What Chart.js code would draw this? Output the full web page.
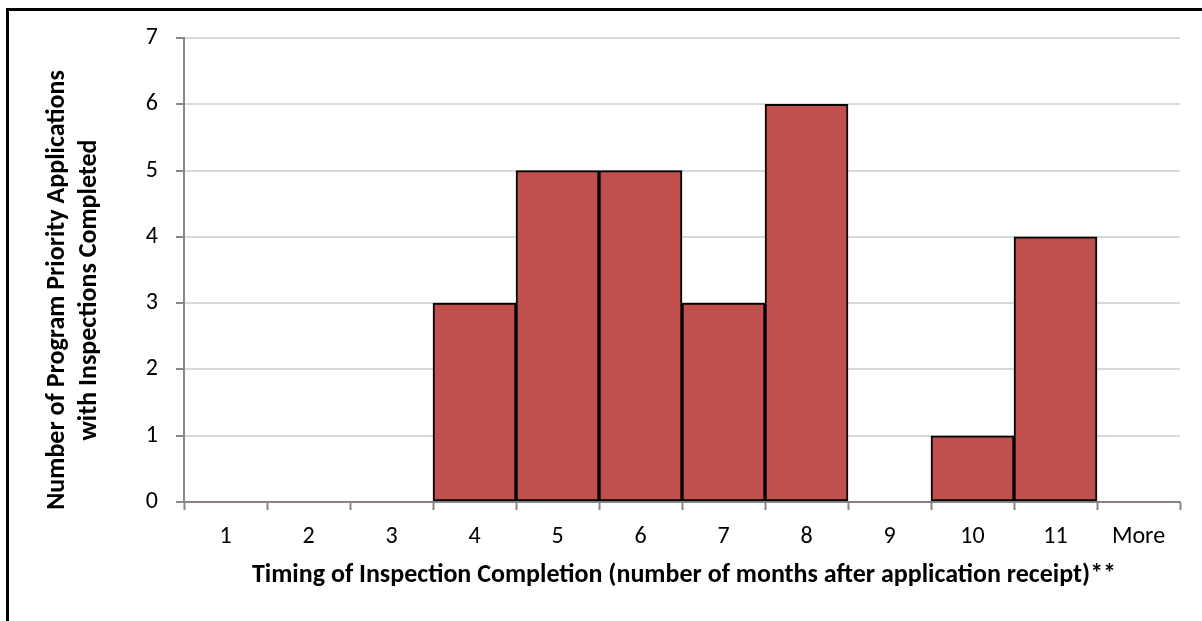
<!DOCTYPE html>
<html>
<head>
<meta charset="utf-8">
<script src="https://cdn.jsdelivr.net/npm/chart.js@4"></script>
<style>
  html, body { margin: 0; padding: 0; background: #fff; }
  body { width: 1202px; height: 621px; position: relative; overflow: hidden; }
  #frame { position: absolute; left: 6px; top: 8px; width: 1300px; height: 700px;
           border-left: 3px solid #000; border-top: 3px solid #000; }
  #wrap { position: absolute; left: 0; top: 0; width: 1202px; height: 621px; }
</style>
</head>
<body>
<div id="frame"></div>
<div id="wrap"><canvas id="chart" width="1202" height="621"></canvas></div>
<script>
// Months until inspection was completed, and how many applications fell in each bin
const categories = ['1', '2', '3', '4', '5', '6', '7', '8', '9', '10', '11', 'More'];
const counts = [0, 0, 0, 3, 5, 5, 3, 6, 0, 1, 4, 0];
const yTicks = [0, 1, 2, 3, 4, 5, 6, 7];
const yTitle = ['Number of Program Priority Applications', 'with Inspections Completed'];
const xTitle = 'Timing of Inspection Completion (number of months after application receipt)**';

const FONT = 'Carlito, Calibri, Lato, sans-serif';
const AXIS_GREY = '#878787';
const GRID_GREY = '#d9d9d9';

// Axis titles: two-line rotated title on the left, one line under the month labels
const axisTitles = {
  id: 'axisTitles',
  afterDraw(chart) {
    const ctx = chart.ctx;
    const area = chart.chartArea;
    ctx.save();
    ctx.font = 'bold 26px ' + FONT;
    ctx.fillStyle = '#000';
    ctx.textAlign = 'center';
    ctx.textBaseline = 'middle';
    ctx.fillText(xTitle, (area.left + area.right) / 2 + 2, 575);

    ctx.translate(0, 290);
    ctx.rotate(-Math.PI / 2);
    ctx.fillText(yTitle[0], 0, 57);
    ctx.fillText(yTitle[1], 0, 89);
    ctx.restore();
  }
};

new Chart(document.getElementById('chart'), {
  type: 'bar',
  data: {
    labels: categories,
    datasets: [{
      data: counts,
      backgroundColor: '#c0504d',
      borderColor: '#000',
      borderWidth: ctx => (ctx.raw > 0 ? 2 : 0),
      borderSkipped: false,
      barPercentage: 1,
      categoryPercentage: 1
    }]
  },
  options: {
    responsive: false,
    animation: false,
    layout: { padding: { left: 0, right: 22, top: 38, bottom: 0 } },
    plugins: { legend: { display: false }, tooltip: { enabled: false } },
    scales: {
      x: {
        grid: { offset: true, drawOnChartArea: false, drawTicks: true, tickLength: 8,
                tickColor: AXIS_GREY, tickWidth: 2 },
        border: { color: AXIS_GREY, width: 2 },
        ticks: { color: '#000', font: { family: FONT, size: 24 }, padding: 13 },
        afterFit(scale) { scale.height = 119; }
      },
      y: {
        min: 0,
        max: 7,
        afterBuildTicks(scale) { scale.ticks = yTicks.map(v => ({ value: v })); },
        grid: { color: GRID_GREY, lineWidth: 2, tickLength: 8, tickColor: AXIS_GREY, tickWidth: 2 },
        border: { color: AXIS_GREY, width: 2 },
        ticks: { color: '#000', font: { family: FONT, size: 24 }, padding: 18 },
        afterFit(scale) { scale.width = 184; }
      }
    }
  },
  plugins: [axisTitles]
});
</script>
</body>
</html>
